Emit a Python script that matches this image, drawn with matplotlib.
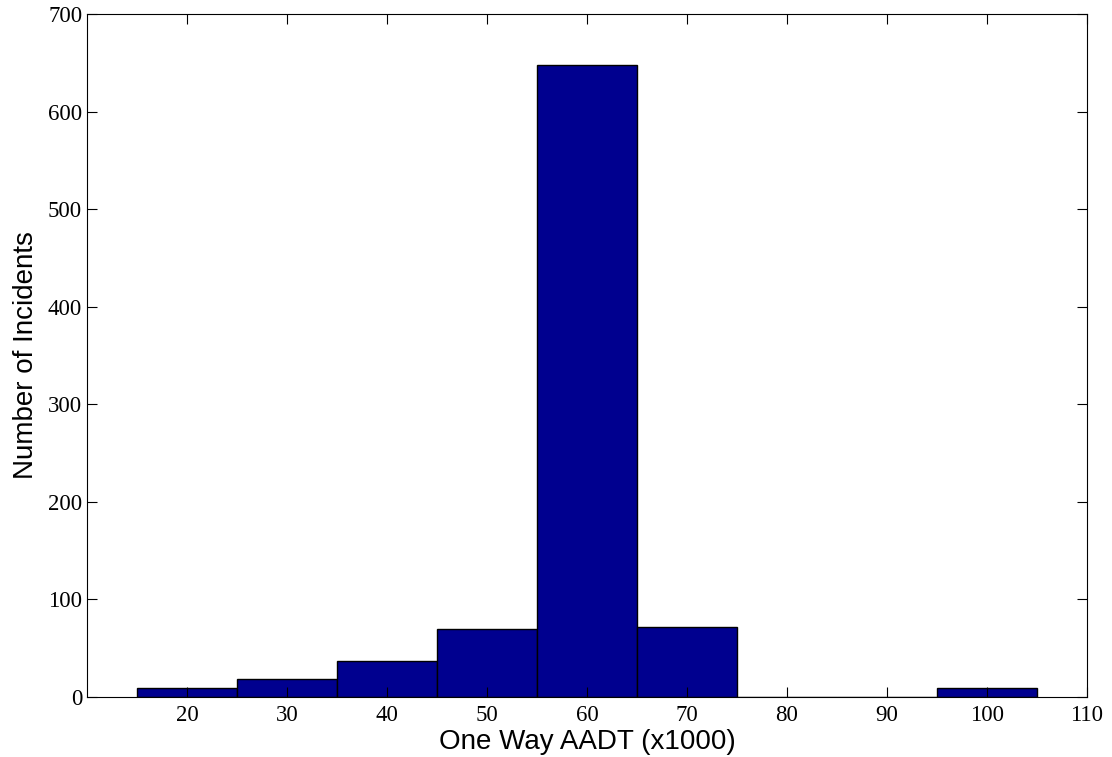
import matplotlib
matplotlib.use("Agg")
import matplotlib.pyplot as plt
import numpy as np

# histogram bins (AADT x1000) and counts
bin_centers = [20, 30, 40, 50, 60, 70, 80, 90, 100]
counts = [9, 18, 37, 70, 648, 72, 0, 0, 9]
bin_width = 10
xticks = [20, 30, 40, 50, 60, 70, 80, 90, 100, 110]
yticks = [0, 100, 200, 300, 400, 500, 600, 700]

fig = plt.figure(figsize=(11.12, 7.57), dpi=100)
ax = fig.add_axes([87/1112, 60/757, 1000/1112, 683/757])

ax.bar(bin_centers, counts, width=bin_width, color=(0, 0, 0.5625),
       edgecolor='black', linewidth=1.0)

ax.set_xlim(10, 110)
ax.set_ylim(0, 700)
ax.set_xticks(xticks)
ax.set_yticks(yticks)
ax.tick_params(direction='in', top=True, right=True, length=7, width=0.8,
               labelsize=16.5)
ax.tick_params(axis='x', pad=6)
ax.tick_params(axis='y', pad=3.5)
for lab in ax.get_xticklabels() + ax.get_yticklabels():
    lab.set_family('Liberation Serif')

ax.set_xlabel('One Way AADT (x1000)', fontsize=20, family='Liberation Sans', labelpad=2)
ax.set_ylabel('Number of Incidents', fontsize=20, family='Liberation Sans', labelpad=6.5)

fig.savefig('out.png', dpi=100)
